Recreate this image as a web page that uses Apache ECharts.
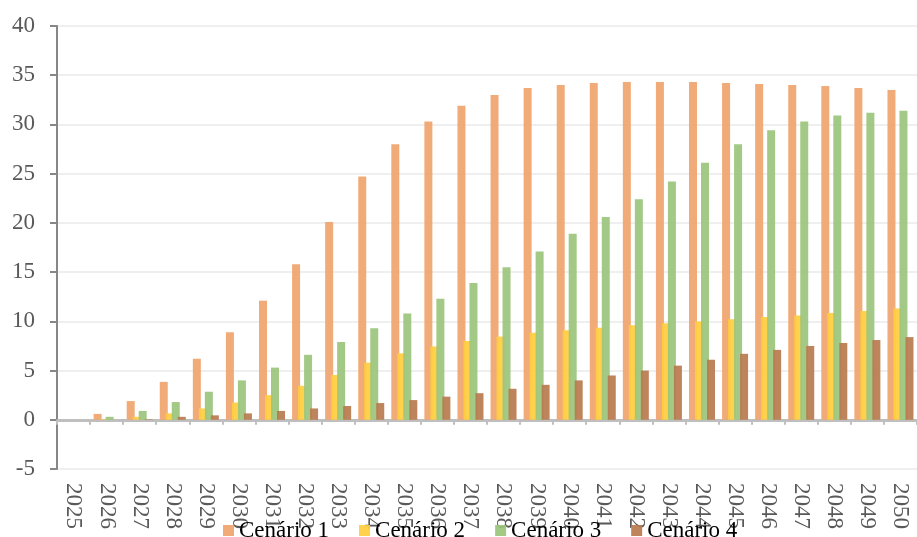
<!DOCTYPE html>
<html>
<head>
<meta charset="utf-8">
<script src="https://cdn.jsdelivr.net/npm/echarts@6/dist/echarts.min.js"></script>
<style>
  html, body { margin: 0; padding: 0; background: #fff; }
  #main { width: 917px; height: 537px; }
</style>
</head>
<body>
<div id="main"></div>
<script>
// anos
var years = ['2025', '2026', '2027', '2028', '2029', '2030', '2031', '2032', '2033',
    '2034', '2035', '2036', '2037', '2038', '2039', '2040', '2041', '2042', '2043',
    '2044', '2045', '2046', '2047', '2048', '2049', '2050'];

var cenario1 = [0, 0.6, 1.9, 3.85, 6.2, 8.9, 12.1, 15.8, 20.1, 24.7, 28.0, 30.3, 31.9,
    33.0, 33.7, 34.0, 34.2, 34.3, 34.3, 34.3, 34.2, 34.1, 34.0, 33.9, 33.7, 33.5];
var cenario2 = [0, 0.05, 0.3, 0.65, 1.15, 1.75, 2.5, 3.45, 4.55, 5.8, 6.75, 7.45, 8.0,
    8.45, 8.85, 9.1, 9.35, 9.6, 9.8, 10.0, 10.2, 10.45, 10.6, 10.85, 11.05, 11.3];
var cenario3 = [0, 0.3, 0.9, 1.8, 2.85, 4.0, 5.3, 6.6, 7.9, 9.3, 10.8, 12.3, 13.9,
    15.5, 17.1, 18.9, 20.6, 22.4, 24.2, 26.1, 28.0, 29.4, 30.3, 30.9, 31.2, 31.4];
var cenario4 = [0, 0, 0.05, 0.3, 0.45, 0.65, 0.9, 1.15, 1.4, 1.7, 2.0, 2.35, 2.7,
    3.15, 3.55, 4.0, 4.5, 5.0, 5.5, 6.1, 6.7, 7.1, 7.5, 7.8, 8.1, 8.4];

var seriesNames = ['Cenário 1', 'Cenário 2', 'Cenário 3', 'Cenário 4'];
var seriesColors = ['#F0A46C', '#FFCD3E', '#9BC47D', '#B87A4E'];

var font = 'Liberation Serif';

function makeBar(i, data) {
    return {
        name: seriesNames[i],
        type: 'bar',
        data: data,
        barWidth: 8,
        barGap: '-25%',
        itemStyle: {
            color: seriesColors[i],
            opacity: 0.92
        }
    }
}

var myChart = echarts.init(document.getElementById('main'));

var option = {
    backgroundColor: '#fff',
    animation: false,
    textStyle: { fontFamily: font },
    legend: {
        left: 218,
        top: 514,
        itemWidth: 11,
        itemHeight: 11,
        itemGap: 30,
        icon: 'rect',
        data: seriesNames,
        textStyle: { fontFamily: font, fontSize: 23, color: '#000' }
    },
    grid: {
        left: 57,
        top: 26,
        width: 869,
        height: 443,
        containLabel: false
    },
    xAxis: {
        type: 'category',
        data: years,
        boundaryGap: true,
        axisLine: { onZero: true, lineStyle: { color: '#BFBFBF', width: 3 } },
        axisTick: { show: true, length: 5, lineStyle: { color: '#BFBFBF', width: 2 } },
        axisLabel: {
            rotate: -90,
            interval: 0,
            margin: 14,
            fontFamily: font,
            fontSize: 23,
            color: '#595959'
        },
        splitLine: { show: false }
    },
    yAxis: {
        type: 'value',
        min: -5,
        max: 40,
        interval: 5,
        axisLine: { show: true, lineStyle: { color: '#878787', width: 2 } },
        axisTick: { show: true, length: 7, lineStyle: { color: '#878787', width: 2 } },
        axisLabel: {
            margin: 22,
            fontFamily: font,
            fontSize: 23,
            color: '#595959'
        },
        splitLine: { lineStyle: { color: '#EFEFEF', width: 2 } }
    },
    series: [
        makeBar(0, cenario1),
        makeBar(1, cenario2),
        makeBar(2, cenario3),
        makeBar(3, cenario4)
    ]
};

myChart.setOption(option, true);
</script>
</body>
</html>
